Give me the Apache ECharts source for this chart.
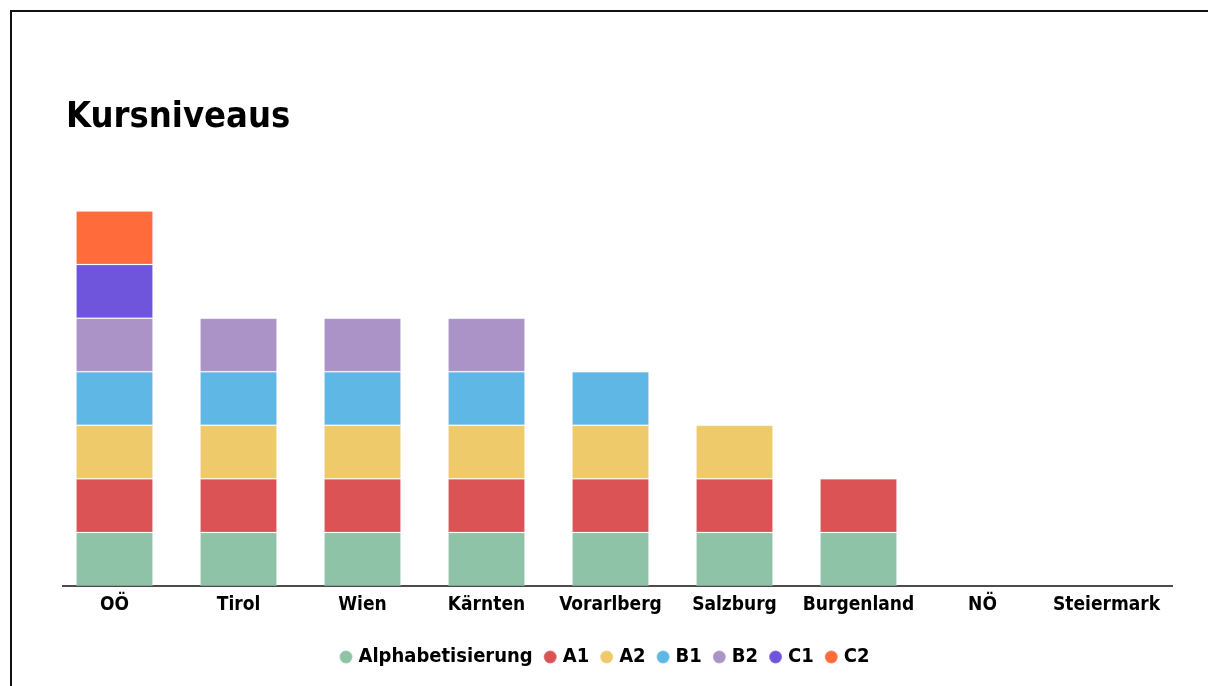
<!DOCTYPE html>
<html><head><meta charset="utf-8">
<script src="https://cdn.jsdelivr.net/npm/echarts@6/dist/echarts.min.js"></script>
<style>html,body{margin:0;padding:0;background:#fff}#c{width:1208px;height:686px;position:relative}
#frame{position:absolute;left:10px;top:10px;width:1300px;height:800px;border-left:2px solid #111;border-top:2px solid #111;box-sizing:border-box;pointer-events:none}</style>
</head><body><div id="c"></div><div id="frame"></div>
<script>
const categories = ['OÖ','Tirol','Wien','Kärnten','Vorarlberg','Salzburg','Burgenland','NÖ','Steiermark'];
const seriesNames = ['Alphabetisierung','A1','A2','B1','B2','C1','C2'];
const alpha = [1,1,1,1,1,1,1,0,0];
const a1    = [1,1,1,1,1,1,1,0,0];
const a2    = [1,1,1,1,1,1,0,0,0];
const b1    = [1,1,1,1,1,0,0,0,0];
const b2    = [1,1,1,1,0,0,0,0,0];
const c1    = [1,0,0,0,0,0,0,0,0];
const c2    = [1,0,0,0,0,0,0,0,0];
const colors = ['#8ec3a7','#dc5355','#efca6b','#5fb7e5','#ab93c8','#6e55dc','#ff6b3b'];
const values = [alpha,a1,a2,b1,b2,c1,c2];
const FONT = '"Liberation Sans Narrow","DejaVu Sans Condensed","Roboto Condensed",Roboto,sans-serif';
const chart = echarts.init(document.getElementById('c'), null, {renderer:'canvas'});
chart.setOption({
  animation:false,
  textStyle:{fontFamily:FONT},
  title:{text:'Kursniveaus',left:61,top:95,textStyle:{fontFamily:FONT,fontWeight:'bold',fontSize:36,color:'#000'}},
  legend:{bottom:14,left:'center',icon:'circle',itemWidth:13,itemHeight:13,itemGap:10,
    textStyle:{fontFamily:FONT,fontWeight:'bold',fontSize:20,color:'#000',padding:[0,0,0,1]},data:seriesNames},
  grid:{left:52.5,right:39.5,top:211,bottom:100,containLabel:false},
  xAxis:{type:'category',data:categories,axisLine:{show:false},axisTick:{show:false},
    axisLabel:{fontFamily:FONT,fontWeight:'bold',fontSize:19,color:'#000',margin:10,interval:0}},
  yAxis:{type:'value',min:0,max:7,show:false,splitLine:{show:false}},
  graphic:[{type:'line',shape:{x1:62,y1:586,x2:1173,y2:586},style:{stroke:'#111',lineWidth:1.5}}],
  series: seriesNames.map((n,i)=>({name:n,type:'bar',stack:'s',barWidth:77,data:values[i].map(v=>v||null),
    itemStyle:{color:colors[i],borderColor:'rgba(255,255,255,0.18)',borderWidth:1}}))
});
</script></body></html>
